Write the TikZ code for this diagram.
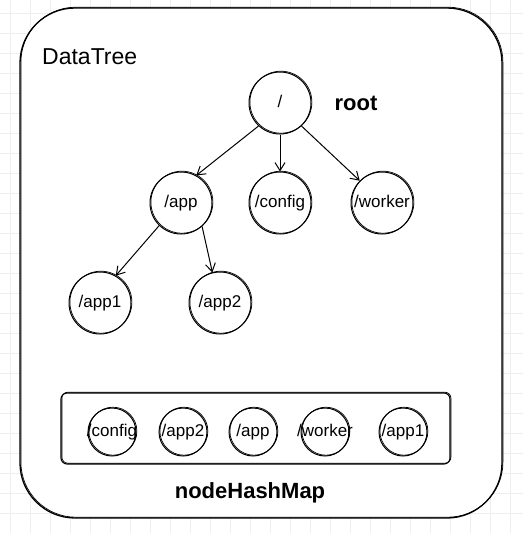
\documentclass[tikz,border=0pt]{standalone}
\usepackage{fontspec}
\setmainfont{Liberation Sans}
\usetikzlibrary{arrows.meta,positioning}
\newcommand{\hashkey}[1]{\makebox[0pt]{#1}}

\begin{document}
\begin{tikzpicture}[x=1pt, y=-1pt,
    gridline/.style={gray!13, line width=0.5pt},
    sketch/.style={postaction={draw, line width=0.7pt, transform canvas={shift={(0.9pt,0.8pt)}}}},
    treenode/.style={draw, circle, line width=1pt, sketch, minimum size=62pt, inner sep=0pt, text height=12.5pt, text depth=3.5pt, font=\fontsize{17}{17}\selectfont},
    mapnode/.style={treenode, minimum size=48pt},
    link/.style={line width=1pt, -{Straight Barb[length=8pt, width=10pt]}},
    boldlabel/.style={font=\fontsize{22}{22}\selectfont\bfseries}]
        \useasboundingbox (0,0) rectangle (523,533);
        % Background grid
        \foreach \x in {10,30,...,510} \draw[gridline] (\x,0) -- (\x,533);
        \foreach \y in {13,33,...,533} \draw[gridline] (0,\y) -- (523,\y);
        
        % Containers
        \node[draw, fill=white, line width=1.3pt, sketch, rounded corners=55pt, minimum width=482pt, minimum height=510pt] (datatree) at (261,263) {};
        \node[draw, line width=1.1pt, sketch, rounded corners=6pt, minimum width=389pt, minimum height=71pt] (hashmap) at (255.5,428.5) {};
        
        % Labels
        \node[font=\fontsize{23}{23}\selectfont, anchor=west, inner sep=0pt] (dtlabel) at (42,57) {DataTree};
        \node[boldlabel] (rootlabel) at (356,103) {root};
        \node[boldlabel] (maplabel) at (250,493) {nodeHashMap};
        
        % Tree nodes
        \node[treenode] (root) at (280,103) {/};
        \node[treenode] (app) at (181,203) {/app};
        \node[treenode] (config) at (280,203) {/config};
        \node[treenode] (worker) at (382,203) {\hashkey{/worker}};
        \node[treenode] (app1) at (100,303) {/app1};
        \node[treenode] (app2) at (220,303) {/app2};
        
        % Hash map entries
        \node[mapnode] (mconfig) at (112,432) {\hashkey{/config}};
        \node[mapnode] (mapp2) at (183,432) {\hashkey{/app2}};
        \node[mapnode] (mapp) at (253,432) {\hashkey{/app}};
        \node[mapnode] (mworker) at (325,432) {\hashkey{/worker}};
        \node[mapnode] (mapp1) at (403,432) {\hashkey{/app1}};
        
        % Tree edges
        \draw[link] (root.227) -- (app.61);
        \draw[link] (root.south) -- (config.north);
        \draw[link] (root.313) -- (worker.135);
        \draw[link] (app.226) -- (app1.60);
        \draw[link] (app.312) -- (app2.104);
    \end{tikzpicture}
\end{document}
